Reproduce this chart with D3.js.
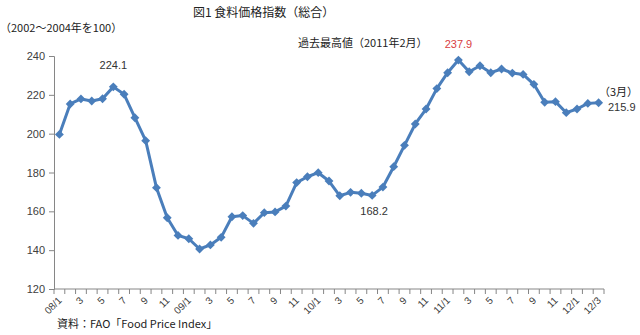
<!DOCTYPE html>
<html>
<head>
<meta charset="utf-8">
<script src="https://d3js.org/d3.v7.min.js"></script>
<style>
  body { margin: 0; background: #fff; }
  text { font-family: "Noto Sans CJK JP", "Noto Sans", sans-serif; }
</style>
</head>
<body>
<div id="chart"></div>
<script>
// monthly FAO food price index, 2008/1 - 2012/3
var months = [];
var years = ['08', '09', '10', '11'];
years.forEach(function(y) {
  for (var m = 1; m <= 12; m++) months.push(y + '/' + m);
});
months.push('12/1', '12/2', '12/3');

var values = [
  199.6, 215.3, 217.9, 216.8, 218.0, 224.1, 220.3, 208.2, 196.4, 172.2, 156.7, 147.6,
  145.9, 140.6, 142.7, 146.6, 157.2, 157.8, 153.8, 159.3, 159.7, 162.7, 174.8, 177.8,
  179.9, 175.6, 168.0, 169.8, 169.3, 168.2, 172.5, 183.0, 194.0, 205.0, 212.7, 223.2,
  231.4, 237.9, 231.9, 235.0, 231.4, 233.3, 231.2, 230.5, 225.4, 216.2, 216.5, 210.8,
  212.7, 215.6, 215.9
];

var yTicks = [120, 140, 160, 180, 200, 220, 240];

var W = 640, H = 335;
var margin = { top: 56, left: 54, right: 36, bottom: 46 };
var width = W - margin.left - margin.right;
var height = H - margin.top - margin.bottom;

var svg = d3.select('#chart').append('svg')
  .attr('width', W)
  .attr('height', H);

var xScale = d3.scaleBand()
  .domain(months)
  .range([0, width])
  .padding(0);

var yScale = d3.scaleLinear()
  .domain([120, 240])
  .range([height, 0]);

var g = svg.append('g')
  .attr('transform', 'translate(' + margin.left + ',' + margin.top + ')');

// y axis
var yAxis = d3.axisLeft(yScale).tickValues(yTicks).tickSize(5).tickPadding(4);
var yg = g.append('g').call(yAxis);
yg.select('.domain').attr('stroke', '#868686');
yg.selectAll('.tick line').attr('stroke', '#868686');
yg.selectAll('.tick text').attr('fill', '#404040').style('font-size', '11px')
  .style('font-family', '"Liberation Sans", Arial, sans-serif');

// x axis (ticks at category boundaries)
var bounds = d3.range(months.length + 1).map(function(i) { return i * xScale.bandwidth(); });
var xg = g.append('g').attr('transform', 'translate(0,' + height + ')');
xg.append('line')
  .attr('x1', 0).attr('x2', width)
  .attr('stroke', '#868686');
xg.selectAll('line.tk')
  .data(bounds)
  .enter().append('line')
  .attr('class', 'tk')
  .attr('x1', function(d) { return d; })
  .attr('x2', function(d) { return d; })
  .attr('y1', 0).attr('y2', 5)
  .attr('stroke', '#868686');

var last = months[months.length - 1];
var shown = months.filter(function(m, i) { return i % 2 === 0; });
xg.selectAll('text.lbl')
  .data(shown)
  .enter().append('text')
  .attr('class', 'lbl')
  .attr('text-anchor', 'end')
  .attr('fill', '#404040')
  .style('font-size', '10px')
  .style('font-family', '"Liberation Sans", Arial, sans-serif')
  .attr('transform', function(d) {
    var x = xScale(d) + xScale.bandwidth() / 2 + 3;
    return 'translate(' + x + ',12) rotate(-45)';
  })
  .text(function(d) {
    var m = d.split('/')[1];
    return (m === '1' || d === last) ? d : m;
  });

// line
var line = d3.line()
  .x(function(d, i) { return xScale(months[i]) + xScale.bandwidth() / 2; })
  .y(function(d) { return yScale(d); });

g.append('path')
  .datum(values)
  .attr('fill', 'none')
  .attr('stroke', '#4A7EBB')
  .attr('stroke-width', 3)
  .attr('stroke-linejoin', 'round')
  .attr('d', line);

g.selectAll('path.mk')
  .data(values)
  .enter().append('path')
  .attr('class', 'mk')
  .attr('d', d3.symbol().type(d3.symbolDiamond2).size(50))
  .attr('fill', '#4A7EBB')
  .attr('transform', function(d, i) {
    return 'translate(' + (xScale(months[i]) + xScale.bandwidth() / 2) + ',' + yScale(d) + ')';
  });

// labels
function px(i) { return margin.left + xScale(months[i]) + xScale.bandwidth() / 2; }
function py(i) { return margin.top + yScale(values[i]); }

svg.append('text')
  .attr('x', 193).attr('y', 17)
  .attr('fill', '#222')
  .style('font-size', '12px')
  .text('図1  食料価格指数（総合）');

svg.append('text')
  .attr('x', 0).attr('y', 32)
  .attr('fill', '#222')
  .style('font-size', '11px')
  .text('（2002～2004年を100）');

svg.append('text')
  .attr('x', 298).attr('y', 47)
  .attr('fill', '#222')
  .style('font-size', '11px')
  .text('過去最高値（2011年2月）');

svg.append('text')
  .attr('x', px(37)).attr('y', py(37) - 12)
  .attr('text-anchor', 'middle')
  .attr('fill', '#D9403F')
  .style('font-size', '11px')
  .style('font-family', '"Liberation Sans", Arial, sans-serif')
  .text('237.9');

svg.append('text')
  .attr('x', px(5)).attr('y', py(5) - 18)
  .attr('text-anchor', 'middle')
  .attr('fill', '#333')
  .style('font-size', '11px')
  .style('font-family', '"Liberation Sans", Arial, sans-serif')
  .text('224.1');

svg.append('text')
  .attr('x', px(29) + 2).attr('y', py(29) + 20)
  .attr('text-anchor', 'middle')
  .attr('fill', '#333')
  .style('font-size', '11px')
  .style('font-family', '"Liberation Sans", Arial, sans-serif')
  .text('168.2');

svg.append('text')
  .attr('x', 599).attr('y', 96)
  .attr('fill', '#222')
  .style('font-size', '11px')
  .text('（3月）');

svg.append('text')
  .attr('x', 608).attr('y', 111)
  .attr('fill', '#333')
  .style('font-size', '11px')
  .style('font-family', '"Liberation Sans", Arial, sans-serif')
  .text('215.9');

svg.append('text')
  .attr('x', 57).attr('y', 328)
  .attr('fill', '#222')
  .style('font-size', '11px')
  .text('資料：FAO「Food Price Index」');
</script>
</body>
</html>
